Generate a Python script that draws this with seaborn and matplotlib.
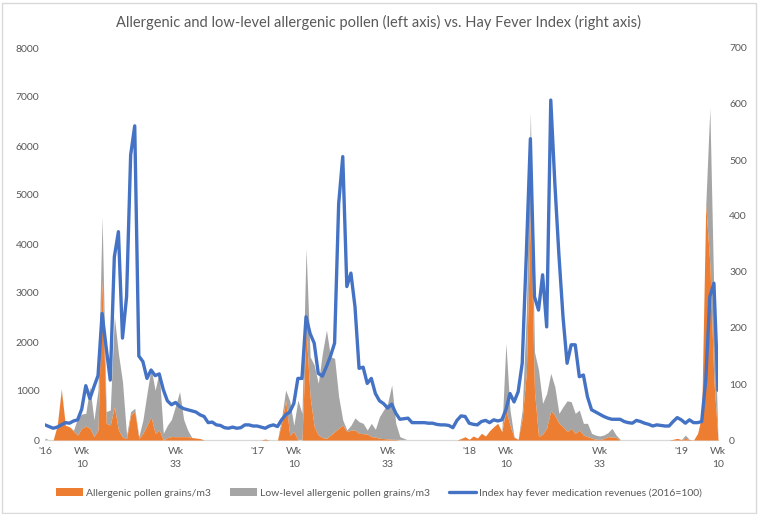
import numpy as np
import matplotlib
matplotlib.use("Agg")
import matplotlib.pyplot as plt
from matplotlib.patches import Patch, Rectangle
from matplotlib.lines import Line2D
import seaborn as sns

# ---------------- data (weekly, week 1 2016 .. week 10 2019) ----------------
hay_index = [
    27, 24, 21, 23, 27, 31, 30, 34, 36, 55,
    97, 74, 95, 115, 226, 165, 107, 327, 372, 182,
    256, 509, 561, 150, 140, 110, 125, 115, 118, 90,
    70, 63, 67, 60, 56, 54, 52, 50, 45, 42,
    31, 32, 27, 26, 22, 21, 23, 21, 22, 27,
    27, 25, 25, 23, 21, 25, 27, 24, 36, 45,
    50, 65, 110, 110, 220, 190, 173, 119, 114, 131,
    150, 173, 422, 506, 274, 298, 238, 128, 130, 101,
    110, 83, 70, 65, 57, 64, 48, 37, 38, 39,
    31, 31, 31, 31, 30, 30, 28, 27, 27, 26,
    22, 35, 43, 42, 30, 28, 27, 33, 35, 31,
    36, 34, 36, 54, 83, 68, 86, 137, 330, 538,
    256, 232, 295, 202, 607, 458, 330, 220, 137, 170,
    170, 113, 116, 77, 54, 50, 46, 42, 39, 37,
    37, 37, 33, 31, 30, 35, 33, 30, 28, 25,
    27, 26, 25, 25, 33, 40, 36, 30, 36, 31,
    31, 33, 107, 256, 280, 89,
]

allergenic = [
    0, 0, 0, 300, 1020, 300, 270, 180, 100, 240,
    285, 240, 70, 200, 3264, 340, 306, 680, 204, 60,
    30, 510, 578, 30, 136, 300, 476, 136, 204, 0,
    50, 70, 68, 68, 68, 68, 50, 40, 30, 0,
    0, 0, 0, 0, 0, 0, 0, 0, 0, 0,
    0, 0, 0, 0, 20, 0, 0, 0, 340, 816,
    100, 170, 0, 0, 2250, 880, 272, 102, 50, 34,
    100, 170, 238, 306, 170, 204, 200, 136, 130, 122,
    68, 60, 34, 30, 20, 14, 10, 0, 0, 0,
    0, 0, 0, 0, 0, 0, 0, 0, 0, 0,
    0, 0, 30, 68, 14, 82, 40, 136, 82, 190,
    272, 340, 170, 612, 300, 50, 14, 442, 1360, 4624,
    1000, 68, 120, 250, 600, 500, 340, 272, 170, 238,
    136, 204, 102, 68, 40, 14, 10, 30, 68, 60,
    54, 0, 0, 0, 0, 0, 0, 0, 0, 0,
    0, 0, 0, 0, 14, 34, 10, 34, 10, 0,
    136, 500, 4800, 3600, 1200, 0,
]

low_level = [
    40, 0, 0, 0, 30, 0, 0, 20, 350, 290,
    260, 850, 340, 820, 1290, 240, 306, 1840, 1560, 1130,
    70, 70, 70, 38, 270, 650, 990, 880, 1190, 136,
    250, 350, 630, 920, 350, 130, 0, 0, 0, 0,
    0, 0, 0, 0, 0, 0, 0, 0, 0, 0,
    0, 0, 0, 0, 0, 0, 0, 0, 110, 204,
    700, 130, 816, 544, 1660, 820, 1258, 1054, 1718, 2210,
    1600, 1496, 646, 102, 34, 96, 250, 238, 210, 82,
    272, 158, 442, 582, 728, 1108, 330, 68, 34, 0,
    0, 0, 0, 0, 0, 0, 0, 0, 0, 0,
    0, 0, 0, 0, 0, 0, 0, 0, 0, 0,
    0, 0, 0, 1360, 312, 18, 0, 170, 1224, 2074,
    800, 1360, 628, 702, 760, 588, 204, 408, 630, 544,
    408, 408, 238, 272, 96, 86, 72, 72, 82, 178,
    48, 14, 0, 0, 0, 0, 0, 0, 0, 0,
    0, 0, 0, 0, 0, 0, 0, 66, 0, 0,
    0, 0, 0, 3170, 1700, 0,
]

tick_weeks = [0, 9, 32, 52, 61, 84, 104, 113, 136, 156, 165]
tick_labels = ["'16", "Wk\n10", "Wk\n33", "'17", "Wk\n10", "Wk\n33",
               "'18", "Wk\n10", "Wk\n33", "'19", "Wk\n10"]

series_names = ["Allergenic pollen grains/m3",
                "Low-level allergenic pollen grains/m3",
                "Index hay fever medication revenues (2016=100)"]
title = "Allergenic and low-level allergenic pollen (left axis) vs. Hay Fever Index (right axis)"

# ---------------- styling ----------------
sns.set_theme(style="white")
plt.rcParams["font.family"] = ["Lato", "DejaVu Sans"]

ORANGE = "#ED7D31"
GRAY = "#A5A5A5"
BLUE = "#4472C4"
TXT = "#595959"

W, H = 758, 514
fig = plt.figure(figsize=(W / 100, H / 100), dpi=100)
ax = fig.add_axes([45 / W, 1 - 440 / H, (718 - 45) / W, (440 - 48) / H])

week = np.arange(len(hay_index))
a = np.array(allergenic, dtype=float)
l = np.array(low_level, dtype=float)

ax.fill_between(week, 0, a, color=ORANGE, lw=0, zorder=3)
ax.fill_between(week, a, a + l, color=GRAY, lw=0, zorder=2)

ax.set_xlim(0, len(hay_index) - 1)
ax.set_ylim(0, 8000)
ax.set_yticks(np.arange(0, 8001, 1000))
ax.set_xticks(tick_weeks)
ax.set_xticklabels(tick_labels, linespacing=1.6)
ax.tick_params(axis="y", length=0, pad=4, labelsize=7.5, labelcolor=TXT)
ax.tick_params(axis="x", length=0, pad=5, labelsize=7.5, labelcolor=TXT)
for lab in ax.get_xticklabels():
    lab.set_verticalalignment("top")
for s in ["top", "left", "right"]:
    ax.spines[s].set_visible(False)
ax.spines["bottom"].set_color("#D9D9D9")
ax.spines["bottom"].set_linewidth(0.9)
ax.grid(False)

ax2 = ax.twinx()
sns.lineplot(x=week, y=hay_index, ax=ax2, color=BLUE, linewidth=2.4,
             solid_joinstyle="round", solid_capstyle="round", legend=False)
ax2.set_ylim(0, 700)
ax2.set_yticks(np.arange(0, 701, 100))
ax2.tick_params(axis="y", length=0, pad=8, labelsize=7.5, labelcolor=TXT)
for s in ax2.spines.values():
    s.set_visible(False)
ax2.grid(False)
ax2.set_ylabel("")

fig.text(0.5, 1 - 22 / H, title, ha="center", va="center",
         fontsize=10.5, color=TXT, fontweight="normal")

handles = [Patch(facecolor=ORANGE, edgecolor="none"),
           Patch(facecolor=GRAY, edgecolor="none"),
           Line2D([0], [0], color=BLUE, lw=2.4)]
leg = fig.legend(handles, series_names, loc="center",
                 bbox_to_anchor=(0.5, 1 - 493 / H), ncol=3, frameon=False,
                 fontsize=7.5, handlelength=2.6, handleheight=0.8,
                 handletextpad=0.3, columnspacing=1.8, borderaxespad=0)
for t in leg.get_texts():
    t.set_color(TXT)

fig.patches.append(Rectangle((1.5 / W, 1.5 / H), 1 - 4 / W, 1 - 4 / H,
                             transform=fig.transFigure, fill=False,
                             edgecolor="#D9D9D9", lw=1))

fig.savefig("out.png", dpi=100)
